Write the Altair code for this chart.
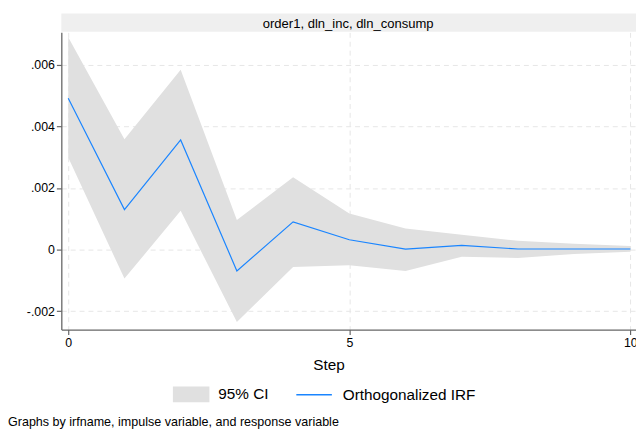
import altair as alt
import pandas as pd

steps = list(range(11))
irf = [0.00491, 0.00130, 0.00356, -0.00069, 0.00090, 0.00032, 0.00002, 0.00014, 0.00002, 0.00002, 0.00002]
ci_lower = [0.00299, -0.00094, 0.00126, -0.00235, -0.00056, -0.00051, -0.00069, -0.00023, -0.00027, -0.00014, -0.00007]
ci_upper = [0.00689, 0.00358, 0.00584, 0.00096, 0.00235, 0.00117, 0.00069, 0.00048, 0.00029, 0.00019, 0.00012]
x_ticks = [0, 5, 10]
y_ticks = [-0.002, 0, 0.002, 0.004, 0.006]
strip_label = ["order1, dln_inc, dln_consump"]
note_text = ["Graphs by irfname, impulse variable, and response variable"]
band_name = "95% CI"
line_name = "Orthogonalized IRF"

FONT = "Liberation Sans"
W, H = 582, 301

df = pd.DataFrame({
    "step": steps, "irf": irf, "lower": ci_lower, "upper": ci_upper,
    "band": band_name, "series": line_name,
})

xs = alt.Scale(domain=[-0.123, 10.1], nice=False, zero=False)
ys = alt.Scale(domain=[-0.002594, 0.00705], nice=False, zero=False)

x_axis = alt.Axis(values=x_ticks, format="d", title="Step", labelFlush=False,
                  titleFontSize=15.5, titleFontWeight="normal", titlePadding=9,
                  titleX=270.5, labelPadding=2)
y_axis = alt.Axis(values=y_ticks, title=None, labelPadding=2,
                  labelExpr="datum.value == 0 ? '0' : replace(replace(format(datum.value, '.3f'), '0.', '.'), '\u2212', '-')")

area = alt.Chart(df).mark_area(opacity=1).encode(
    x=alt.X("step:Q", scale=xs, axis=x_axis),
    y=alt.Y("lower:Q", scale=ys, axis=y_axis),
    y2="upper:Q",
    fill=alt.Fill("band:N", scale=alt.Scale(domain=[band_name], range=["#e0e0e0"]),
                  legend=alt.Legend(title=None, orient="none", legendX=113, legendY=348,
                                    symbolType="M-1,-0.432H1V0.432H-1Z", symbolSize=1369,
                                    symbolStrokeWidth=0, labelFontSize=15.5, labelOffset=9,
                                    padding=0, labelFont=FONT, labelColor="#000")),
)

line = alt.Chart(df).mark_line(strokeWidth=1.2).encode(
    x=alt.X("step:Q", scale=xs),
    y=alt.Y("irf:Q", scale=ys),
    stroke=alt.Stroke("series:N", scale=alt.Scale(domain=[line_name], range=["#1a85ff"]),
                      legend=alt.Legend(title=None, orient="none", legendX=237, legendY=348,
                                        symbolType="stroke", symbolSize=1296,
                                        symbolStrokeWidth=1.5, labelFontSize=15.5, labelOffset=10,
                                        padding=0, labelFont=FONT, labelColor="#000")),
)

strip_df = pd.DataFrame({"label": strip_label})
strip_rect = alt.Chart(strip_df).mark_rect(color="#efefef").encode(
    x=alt.value(0), x2=alt.value(W), y=alt.value(-19), y2=alt.value(-0.7)
)
strip_text = alt.Chart(strip_df).mark_text(font=FONT, fontSize=13.2, color="#000",
                                           align="center", baseline="middle").encode(
    x=alt.value(W / 2 - 0.5), y=alt.value(-8.3), text="label:N"
)

note_df = pd.DataFrame({"note": note_text})
note = alt.Chart(note_df).mark_text(font=FONT, fontSize=12.7, color="#000",
                                    align="left", baseline="middle").encode(
    x=alt.value(-54), y=alt.value(395), text="note:N"
)

chart = alt.layer(area, line, strip_rect, strip_text, note).resolve_legend(
    fill="independent", stroke="independent"
).properties(
    width=W, height=H,
    autosize=alt.AutoSizeParams(type="none"),
    padding={"left": 54, "top": 22, "right": 0, "bottom": 99},
    background="white",
).configure_view(stroke=None).configure_axis(
    labelFont=FONT, titleFont=FONT, labelFontSize=12.5, labelColor="#000", titleColor="#000",
    domainColor="#666666", domainWidth=1.3, tickColor="#666666", tickWidth=1.2, tickSize=5,
    grid=True, gridColor="#e6e6e6", gridDash=[5, 4], gridWidth=1,
)

chart.save("out.html", embed_options={"renderer": "svg", "actions": False})
